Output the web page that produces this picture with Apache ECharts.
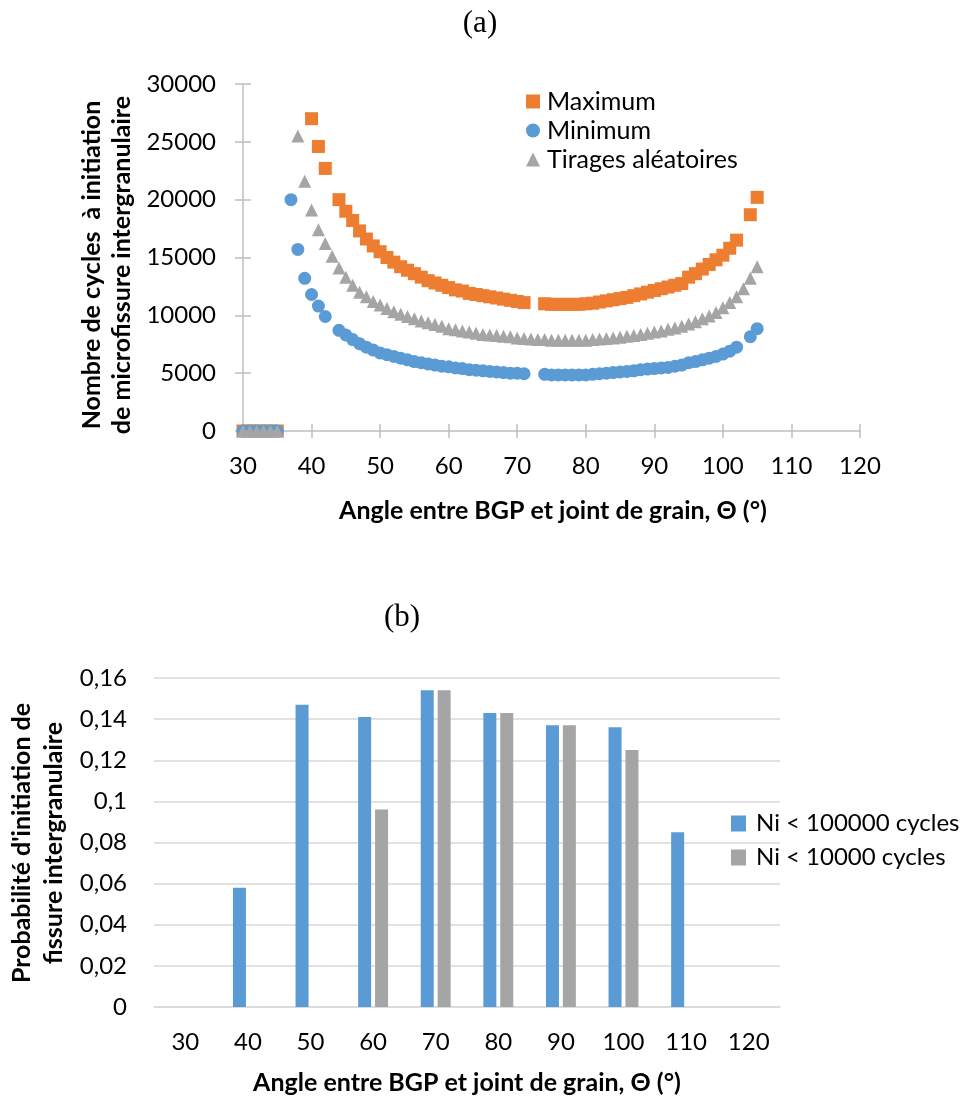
<!DOCTYPE html>
<html>
<head>
<meta charset="utf-8">
<script src="https://cdn.jsdelivr.net/npm/echarts@6/dist/echarts.min.js"></script>
<style>
html,body{margin:0;padding:0;background:#fff;}
#c{width:966px;height:1101px;}
</style>
</head>
<body>
<div id="c"></div>
<script>
// ---------- Chart (a) data ----------
const angles = [30,31,32,33,34,35,36,37,38,39,40,41,42,43,44,45,46,47,48,49,
  50,51,52,53,54,55,56,57,58,59,60,61,62,63,64,65,66,67,68,69,
  70,71,72,73,74,75,76,77,78,79,80,81,82,83,84,85,86,87,88,89,
  90,91,92,93,94,95,96,97,98,99,100,101,102,103,104,105];

const maximumVals = [0,0,0,0,0,0,null,null,null,null,27000,24600,22700,null,20000,19000,18200,17300,16600,16000,
  15500,15000,14600,14200,13900,13600,13300,13000,12800,12600,12400,12200,12100,11900,11800,11700,11600,11500,11400,11300,
  11200,11100,null,null,11000,10950,10950,10950,10950,10950,11000,11050,11150,11250,11350,11450,11550,11700,11850,12000,
  12150,12300,12450,12600,12750,13300,13600,14000,14400,14800,15200,15800,16500,null,18700,20200];

const minimumVals = [0,0,0,0,0,0,null,20000,15700,13200,11800,10800,9900,null,8700,8300,7900,7550,7250,7000,
  6750,6600,6450,6300,6150,6000,5900,5800,5700,5600,5550,5450,5400,5300,5250,5200,5150,5100,5050,5000,
  5000,4950,null,null,4900,4850,4850,4850,4850,4850,4850,4900,4950,5000,5050,5100,5150,5200,5300,5350,
  5400,5450,5500,5600,5700,5900,6000,6150,6300,6450,6650,6900,7250,null,8150,8850];

const tiragesVals = [0,0,0,0,0,0,null,null,25500,21600,19100,17400,16200,15100,14100,13300,12600,12000,11600,11200,
  10900,10600,10300,10100,9900,9700,9500,9350,9200,9050,8850,8750,8650,8550,8450,8350,8300,8250,8200,8150,
  8050,8000,7950,7900,7900,7850,7850,7850,7850,7850,7850,7900,7950,8000,8050,8100,8200,8250,8350,8450,
  8550,8650,8800,8900,9050,9250,9450,9700,9950,10250,10650,11100,11600,12300,13200,14200];

const yTicksA = {min: 0, max: 30000, interval: 5000};
const xTicksA = {min: 30, max: 120, interval: 10};

// ---------- Chart (b) data ----------
const categoriesB = ['30','40','50','60','70','80','90','100','110','120'];
const ni100000 = [0, 0.058, 0.147, 0.141, 0.154, 0.143, 0.137, 0.136, 0.085, 0];
const ni10000  = [0, 0, 0, 0.096, 0.154, 0.143, 0.137, 0.125, 0, 0];

// ---------- styles ----------
const FONT = 'Lato, "Open Sans", sans-serif';
const ORANGE = '#ed7d31', BLUE = '#5b9bd5', GRAY = '#a5a5a5';
const AXIS_A = '#bfbfbf', GRID_B = '#d9d9d9';
const TICK_FS = 24;

function pairs(xs, ys){
  const out = [];
  for (let i = 0; i < xs.length; i++) if (ys[i] !== null) out.push([xs[i], ys[i]]);
  return out;
}

const chart = echarts.init(document.getElementById('c'));

const option = {
  backgroundColor: '#ffffff',
  animation: false,
  textStyle: {fontFamily: FONT, color: '#000'},
  grid: [
    {left: 243, top: 84, width: 617, height: 347},
    {left: 154, top: 678, width: 626, height: 329}
  ],
  legend: [
    {
      data: ['Maximum', 'Minimum', 'Tirages aléatoires'],
      orient: 'vertical', left: 526, top: 89, padding: 0,
      itemWidth: 14, itemHeight: 14, itemGap: 4,
      textStyle: {fontFamily: FONT, fontSize: 25, lineHeight: 25, color: '#000', padding: [0,0,0,2]}
    },
    {
      data: ['Ni < 100000 cycles', 'Ni < 10000 cycles'],
      orient: 'vertical', left: 731, top: 811, padding: 0,
      itemWidth: 15, itemHeight: 16, itemGap: 9,
      icon: 'rect',
      textStyle: {fontFamily: FONT, fontSize: 24, lineHeight: 25, color: '#000', padding: [0,0,0,5]}
    }
  ],
  xAxis: [
    {
      type: 'value', gridIndex: 0, position: 'bottom',
      min: xTicksA.min, max: xTicksA.max, interval: xTicksA.interval,
      axisLine: {show: true, lineStyle: {color: AXIS_A, width: 1.5}},
      axisTick: {show: true, length: 7, lineStyle: {color: AXIS_A, width: 1.5}},
      axisLabel: {fontSize: TICK_FS, color: '#000', margin: 23, fontFamily: FONT},
      splitLine: {show: false}
    },
    {
      type: 'value', gridIndex: 0, position: 'bottom',
      min: xTicksA.min, max: xTicksA.max, interval: xTicksA.interval,
      axisLine: {show: false},
      axisTick: {show: true, inside: true, length: 7, lineStyle: {color: AXIS_A, width: 1.5}},
      axisLabel: {show: false}, splitLine: {show: false}
    },
    {
      type: 'category', gridIndex: 1, data: categoriesB,
      axisLine: {show: true, lineStyle: {color: GRID_B, width: 1.5}},
      axisTick: {show: false},
      axisLabel: {fontSize: TICK_FS, color: '#000', margin: 23, fontFamily: FONT}
    }
  ],
  yAxis: [
    {
      type: 'value', gridIndex: 0, position: 'left',
      min: yTicksA.min, max: yTicksA.max, interval: yTicksA.interval,
      axisLine: {show: true, lineStyle: {color: AXIS_A, width: 1.5}},
      axisTick: {show: true, length: 8, lineStyle: {color: AXIS_A, width: 1.5}},
      axisLabel: {fontSize: TICK_FS, color: '#000', margin: 27, fontFamily: FONT, formatter: v => String(v)},
      splitLine: {show: false}
    },
    {
      type: 'value', gridIndex: 0, position: 'left',
      min: yTicksA.min, max: yTicksA.max, interval: yTicksA.interval,
      axisLine: {show: false},
      axisTick: {show: true, inside: true, length: 8, lineStyle: {color: AXIS_A, width: 1.5}},
      axisLabel: {show: false}, splitLine: {show: false}
    },
    {
      type: 'value', gridIndex: 1,
      min: 0, max: 0.16, interval: 0.02,
      axisLine: {show: false}, axisTick: {show: false},
      axisLabel: {
        fontSize: TICK_FS, color: '#000', margin: 27, fontFamily: FONT,
        formatter: v => String(Math.round(v * 100) / 100).replace('.', ',')
      },
      splitLine: {show: true, lineStyle: {color: GRID_B, width: 1.5}}
    }
  ],
  series: [
    {
      name: 'Maximum', type: 'scatter', xAxisIndex: 0, yAxisIndex: 0,
      symbol: 'rect', symbolSize: 13,
      itemStyle: {color: ORANGE, opacity: 1},
      data: pairs(angles, maximumVals)
    },
    {
      name: 'Minimum', type: 'scatter', xAxisIndex: 0, yAxisIndex: 0,
      symbol: 'circle', symbolSize: 13,
      itemStyle: {color: BLUE, opacity: 1},
      data: pairs(angles, minimumVals)
    },
    {
      name: 'Tirages aléatoires', type: 'scatter', xAxisIndex: 0, yAxisIndex: 0,
      symbol: 'triangle', symbolSize: 13,
      itemStyle: {color: GRAY, opacity: 1},
      data: pairs(angles, tiragesVals)
    },
    {
      name: 'Ni < 100000 cycles', type: 'bar', xAxisIndex: 2, yAxisIndex: 2,
      barWidth: 13, barGap: '30%',
      itemStyle: {color: BLUE},
      data: ni100000
    },
    {
      name: 'Ni < 10000 cycles', type: 'bar', xAxisIndex: 2, yAxisIndex: 2,
      barWidth: 13, barGap: '30%',
      itemStyle: {color: GRAY},
      data: ni10000
    }
  ],
  graphic: [
    {type: 'text', x: 480, y: 24, style: {text: '(a)', font: '31px "Liberation Serif", "Times New Roman", serif', fill: '#000', align: 'center', verticalAlign: 'middle'}},
    {type: 'text', x: 402, y: 618, style: {text: '(b)', font: '31px "Liberation Serif", "Times New Roman", serif', fill: '#000', align: 'center', verticalAlign: 'middle'}},
    {type: 'text', x: 553, y: 511, style: {text: 'Angle entre BGP et joint de grain, Θ (°)', font: 'bold 25px ' + FONT, fill: '#000', align: 'center', verticalAlign: 'middle'}},
    {type: 'text', x: 467, y: 1083, style: {text: 'Angle entre BGP et joint de grain, Θ (°)', font: 'bold 25px ' + FONT, fill: '#000', align: 'center', verticalAlign: 'middle'}},
    {type: 'text', x: 107, y: 265, rotation: Math.PI / 2, style: {text: 'Nombre de cycles  à initiation\nde microfissure intergranulaire', font: 'bold 25px ' + FONT, fill: '#000', align: 'center', verticalAlign: 'middle', lineHeight: 30}},
    {type: 'text', x: 38, y: 843, rotation: Math.PI / 2, style: {text: "Probabilité d'initiation de\nfissure intergranulaire", font: 'bold 25px ' + FONT, fill: '#000', align: 'center', verticalAlign: 'middle', lineHeight: 32}}
  ]
};

chart.setOption(option);
</script>
</body>
</html>
